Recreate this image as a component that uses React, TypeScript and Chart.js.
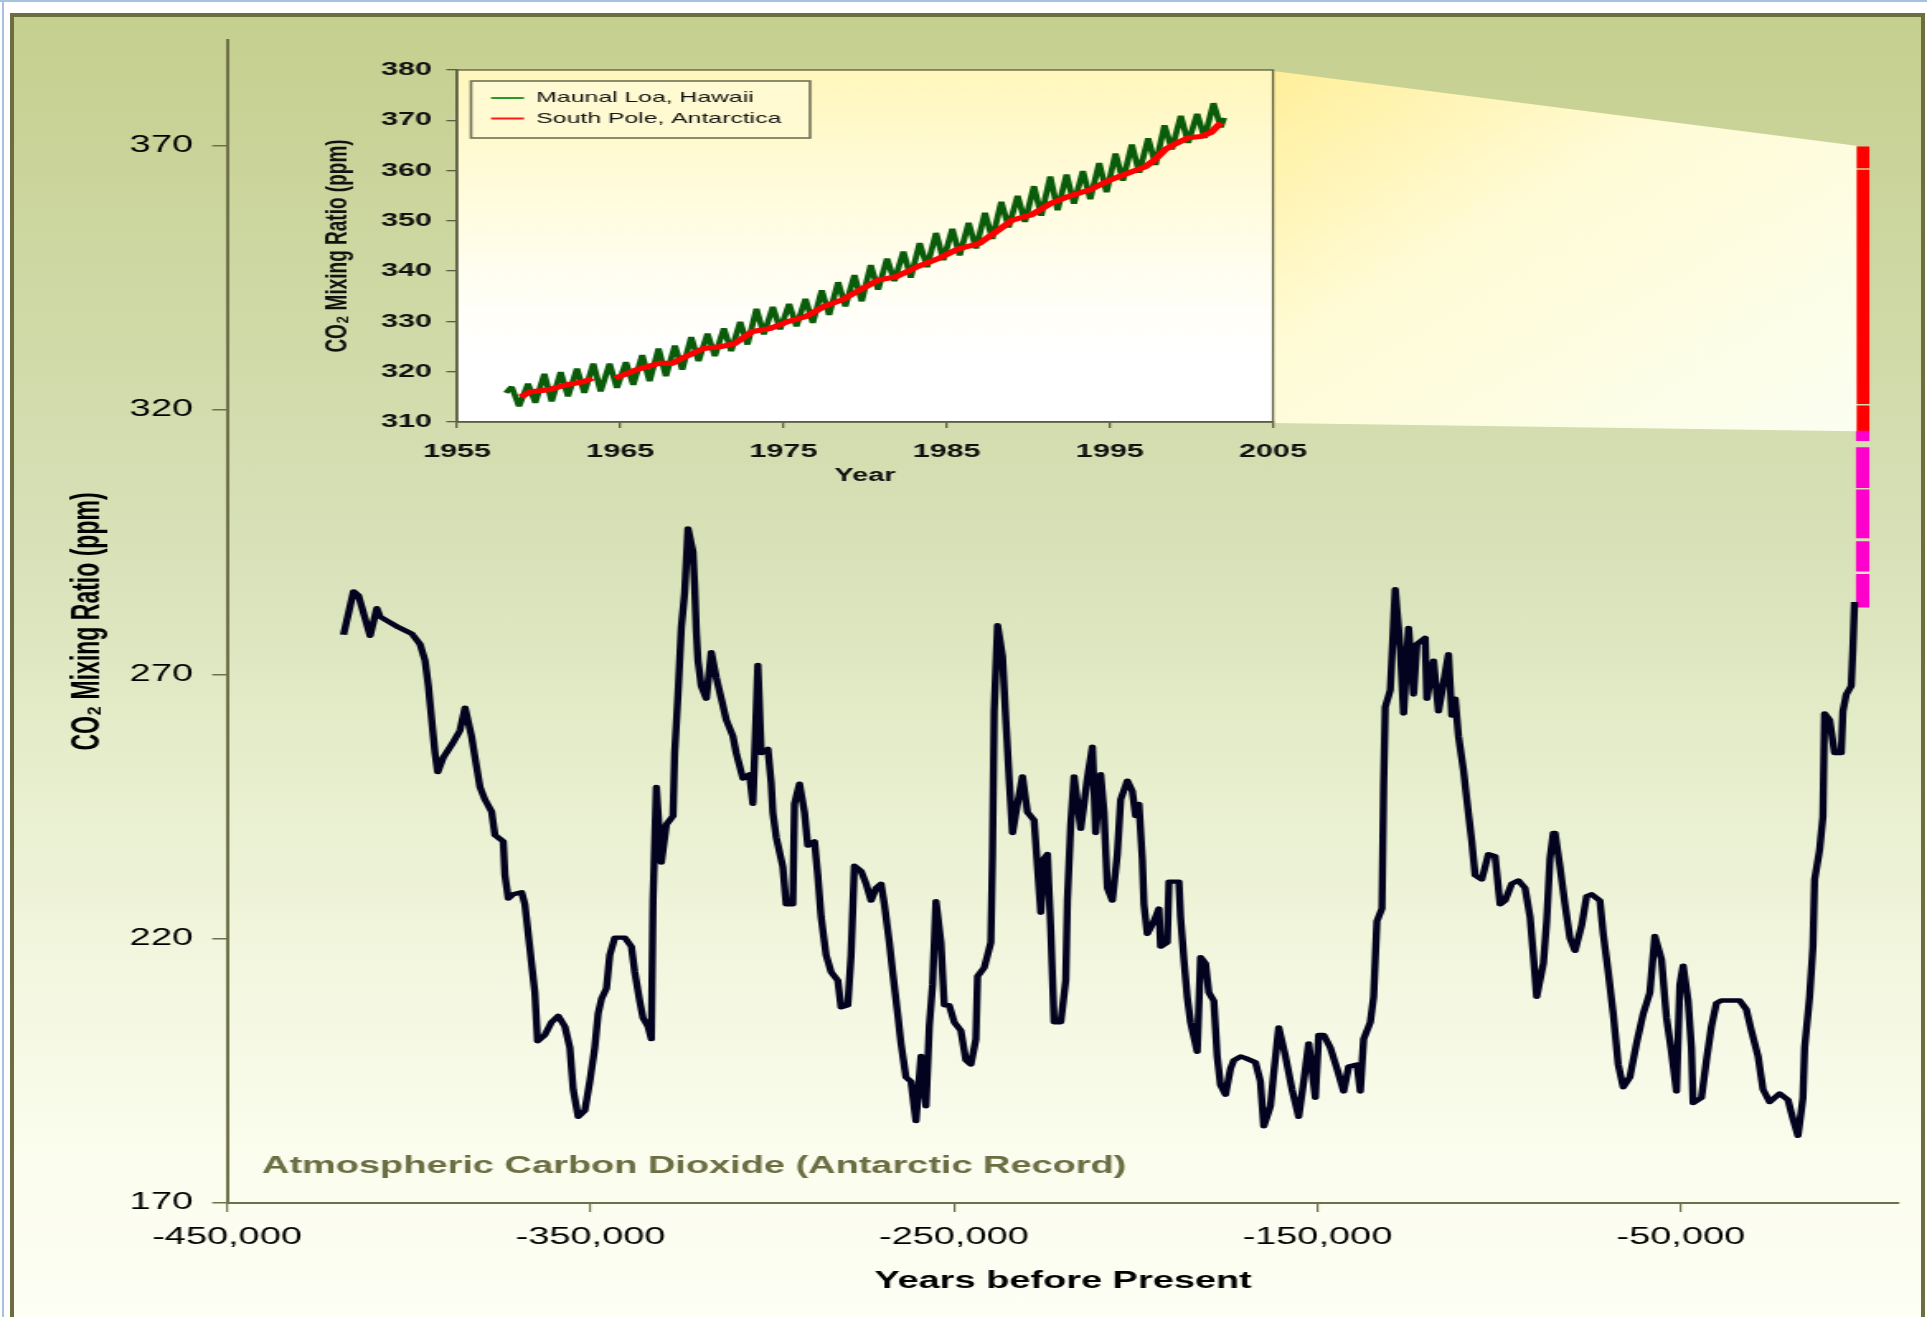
import { useEffect, useRef } from 'react';
import { Chart, registerables } from 'chart.js';

Chart.register(...registerables);

// ---------------- Main chart data: Antarctic ice-core CO2 (years before present / ppm) ----------------
const coYears = [
  -417950, -415200, -413830, -410630, -408790, -407880, -402840, -399180, -396890, -395520, -394600, -393690,
  -392770, -392040, -390480, -388190, -385900, -384530, -382700, -381780, -380410, -379030, -377200, -376290,
  -374000, -373540, -372620, -371250, -368960, -368050, -367130, -366210, -365300, -364570, -362550, -360720,
  -358890, -357060, -355680, -354770, -353390, -351560, -350190, -348820, -347900, -346980, -345610, -344700,
  -343320, -340570, -338740, -337830,
  -336460, -335540, -334170, -333250, -332800, -331880, -330510, -329130, -327300, -326840, -325930, -325010,
  -324100, -323180, -321810, -321350, -320890, -320430, -319520, -318140, -316770, -315400, -314020, -312650,
  -310820, -309900, -308070, -306240, -305320, -303950, -303030, -301200, -300290, -299830, -298910, -297080,
  -296170, -294340, -293880, -292500, -291130, -290220, -288380, -287470, -286550, -285180, -283810, -281970,
  -281060, -279230, -278310, -277400, -275560, -274190, -272820, -271440, -270070, -269150, -267780, -266870,
  -265490, -264580, -263200, -261830, -260460, -259080, -257710, -256790, -255880, -254960, -253590, -252670,
  -251300, -249930, -248100, -246720, -245350, -243970, -243520, -241690, -240770, -239850, -239400, -238940,
  -238020, -236650, -235730, -234820, -233900, -232530, -231160, -229780, -227950, -227030, -226120, -225200,
  -224290, -223370, -222460, -220620, -219250, -218790, -217880, -216960, -215130, -213300, -211920, -211010,
  -209640, -208720, -207800, -206430, -205060, -204140, -202310, -200940, -200020, -199110, -198190, -197730,
  -196820, -194980, -193610, -193150, -191320, -190860, -188120, -187660, -186740, -185830, -184910, -183080,
  -182160, -180790, -179880, -178500, -177590, -176670, -175300, -173920, -173010, -171180,
  -169810, -167060, -165690, -164770, -162940, -162020, -160650, -158820, -156990, -155160, -153780, -152410,
  -150580, -149660, -148290, -146460, -144620, -142790, -141420, -139130, -138210, -137300, -135470, -134550,
  -133640, -132260, -131800, -131350, -129970, -128600, -127230, -126310, -124940, -123560, -122650, -120360,
  -119900, -118070, -116700, -113950, -113030, -112120, -111200, -109830, -108910, -107540, -106620, -104790,
  -102960, -101130, -99750, -98380, -96550, -94720, -92890, -91510, -90600, -89680, -87850, -86930,
  -86020, -85100,
  -84650, -83280, -81900, -80530, -79150, -77320, -75950, -74580, -72290, -71370, -70000, -68620,
  -67250, -65880, -64050, -62210, -60380, -58550, -57180, -55350, -53970, -52600, -51230, -50310,
  -49390, -48020, -47110, -46650, -44360, -42980, -41610, -40240, -38860, -33830, -32000, -30620,
  -28790, -27420, -25590, -22840, -20550, -19180, -17800, -16430, -15970, -14600, -13680, -13220,
  -11850, -10930, -10480, -9100, -7730, -5900, -5440, -4520, -3150, -2690, -2240,
];
const coPpm = [
  277.5, 285.7, 284.9, 277.3, 282.5, 280.9, 278.9, 277.7, 275.7, 272.6, 267.8, 261.4,
  255.1, 251.5, 254.3, 256.7, 259.4, 263.7, 258.2, 254.3, 248.7, 246.3, 244.0, 239.6,
  238.4, 232.0, 227.6, 228.4, 228.8, 226.5, 220.9, 215.3, 209.8, 200.6, 201.8, 204.2,
  205.4, 203.4, 199.4, 191.5, 186.3, 187.5, 193.0, 199.4, 205.8, 208.6, 210.6, 216.9,
  220.2, 220.2, 218.5, 213.7,
  208.2, 205.0, 203.4, 201.0, 227.2, 248.7, 234.4, 241.6, 243.2, 255.1, 266.2, 278.9,
  285.3, 297.6, 293.2, 286.9, 278.1, 272.6, 267.8, 265.4, 274.2, 269.4, 265.4, 261.4,
  258.3, 255.1, 250.3, 251.1, 245.5, 271.8, 255.1, 255.9, 249.5, 243.9, 239.2, 233.6,
  226.5, 226.5, 245.5, 249.3, 243.9, 237.6, 238.4, 232.0, 224.1, 216.9, 213.7, 212.1,
  207.0, 207.4, 216.9, 233.8, 232.8, 230.4, 227.2, 229.6, 230.4, 226.5, 219.3, 213.7,
  205.8, 200.2, 193.8, 193.0, 185.5, 197.8, 188.3, 203.4, 211.3, 227.1, 219.3, 207.4,
  207.4, 204.2, 202.6, 197.0, 196.2, 201.0, 212.9, 214.5, 216.9, 219.3, 236.0, 263.0,
  279.3, 273.4, 261.4, 250.3, 240.0, 245.5, 250.7, 243.9, 242.4, 233.6, 224.9, 235.2,
  236.0, 221.7, 204.2, 204.2, 212.1, 227.2, 241.6, 250.7, 240.8, 250.3, 256.3, 240.0,
  251.1, 243.9, 229.6, 227.2, 236.0, 246.3, 249.9, 247.9, 243.2, 245.5, 235.2, 226.5,
  220.9, 223.3, 225.7, 218.5, 219.3, 230.8, 230.8, 224.1, 216.1, 209.0, 204.2, 198.6,
  216.5, 215.3, 209.8, 208.2, 197.8, 192.3, 190.5, 195.4, 197.0, 197.7,
  197.4, 196.6, 193.0, 184.5, 188.3, 194.6, 203.2, 197.8, 191.5, 186.3, 193.0, 200.2,
  189.9, 201.8, 201.8, 199.4, 195.4, 191.1, 195.8, 196.2, 191.1, 201.0, 204.2, 209.0,
  223.3, 225.7, 248.7, 263.8, 267.0, 286.1, 274.9, 262.6, 278.8, 266.2, 275.7, 276.9,
  265.4, 272.6, 263.0, 273.8, 262.2, 265.4, 258.3, 251.9, 246.3, 238.4, 232.0, 231.2,
  236.0, 235.6, 226.5, 227.2, 230.4, 231.0, 229.6, 224.1, 216.9, 209.0, 215.3, 223.3,
  235.2, 240.0,
  240.0, 233.6, 226.5, 220.1, 217.7, 222.5, 228.0, 228.4, 227.2, 220.9, 213.7, 205.8,
  196.2, 191.9, 193.8, 200.2, 205.8, 209.8, 220.5, 216.1, 205.0, 198.6, 191.1, 211.3,
  214.9, 208.2, 199.4, 188.9, 189.9, 197.0, 203.4, 207.8, 208.3, 208.3, 206.6, 202.6,
  197.8, 191.5, 189.1, 190.7, 189.5, 185.9, 182.7, 189.9, 199.4, 209.0, 218.5, 231.2,
  236.8, 243.1, 262.6, 261.4, 255.1, 255.1, 263.0, 266.2, 267.8, 274.9, 283.7,
];

// recent record drawn as stacked segments at year 0
const recentYear = 0;
const recentLow = [365.8, 321.2, 316.0, 314.2, 305.3, 295.8, 289.5, 282.7];
const recentHigh = [369.8, 365.4, 320.8, 316.0, 312.9, 304.9, 295.1, 288.9];
const recentColors = ['#ff0000', '#ff0000', '#ff0000', '#ff00cc', '#ff00cc', '#ff00cc', '#ff00cc', '#ff00cc'];

const mainXTicks = [-450000, -350000, -250000, -150000, -50000];
const mainYTicks = [170, 220, 270, 320, 370];
const mainTitle = 'Atmospheric Carbon Dioxide (Antarctic Record)';
const mainXTitle = 'Years before Present';
const yTitle = 'CO\u2082 Mixing Ratio (ppm)';

// ---------------- Inset data ----------------
const mlYears = [
  1958, 1959, 1960, 1961, 1962, 1963, 1964, 1965, 1966, 1967, 1968, 1969, 1970, 1971, 1972,
  1973, 1974, 1975, 1976, 1977, 1978, 1979, 1980, 1981, 1982, 1983, 1984, 1985, 1986, 1987,
  1988, 1989, 1990, 1991, 1992, 1993, 1994, 1995, 1996, 1997, 1998, 1999, 2000, 2001,
];
const mlPeak = [
  317.0, 317.6, 319.6, 319.9, 320.6, 321.6, 321.6, 321.9, 323.3, 324.6, 325.2, 326.9, 327.6, 328.6, 329.9,
  332.5, 332.9, 333.5, 334.5, 336.2, 337.8, 339.2, 341.2, 342.5, 343.9, 345.6, 347.6, 348.4, 349.6, 351.6,
  353.8, 355.0, 356.9, 358.8, 359.2, 359.9, 361.5, 363.4, 365.2, 366.4, 369.0, 370.9, 371.3, 373.4,
];
const mlTrough = [
  313.1, 313.8, 314.1, 315.1, 315.8, 316.1, 316.8, 317.4, 318.1, 319.1, 320.4, 322.1, 323.1, 324.1, 325.4,
  327.4, 328.4, 329.0, 329.7, 331.3, 333.0, 334.0, 336.3, 338.0, 338.7, 340.8, 342.2, 343.1, 344.5, 346.4,
  348.7, 349.8, 351.0, 352.1, 353.4, 354.3, 355.7, 358.0, 359.6, 361.1, 364.2, 365.5, 366.5, 368.6,
];
const mlStart = { x: 1958.0, y: 315.8 };
const mlEnd = { x: 2002.0, y: 370.5 };
const spYears = [
  1958.9, 1959.5, 1960.6, 1961.7, 1962.75, 1963.3, 1964.0, 1964.7, 1966.0, 1967.4, 1968.2, 1969.0,
  1970.1, 1971.2, 1972.0, 1973.1, 1974.2, 1975.3, 1976.4, 1977.5, 1978.6, 1979.7, 1980.8, 1981.9,
  1983.3, 1984.5, 1985.7, 1987.0, 1988.2, 1989.0, 1990.2, 1991.4, 1992.6, 1993.8, 1995.0, 1996.2,
  1997.2, 1997.8, 1998.4, 1999.0, 1999.8, 2000.6, 2001.2, 2001.8,
];
const spPpm = [
  315.0, 316.0, 316.4, 317.4, 318.0, 318.7, null, 318.7, 320.4, 321.7, 321.7, 323.0,
  324.6, 325.0, 325.6, 328.0, 328.6, 330.0, 331.0, 333.0, 334.3, 336.3, 338.2, 338.9,
  341.0, 342.5, 344.4, 345.5, 348.2, 350.1, 351.2, 353.5, 355.0, 356.2, 358.1, 359.6,
  360.8, 362.3, 364.2, 365.3, 366.5, 366.8, 367.6, 369.5,
];
const insetXTicks = [1955, 1965, 1975, 1985, 1995, 2005];
const insetYTicks = [310, 320, 330, 340, 350, 360, 370, 380];
const seriesNames = ['Maunal Loa, Hawaii', 'South Pole, Antarctica'];
const legendColors = ['#2a9a2a', '#ff1a1a'];

// ---------------- geometry (page is a horizontally stretched picture) ----------------
const PAGE_W = 1927;
const PAGE_H = 1317;
const CW = 1168;
const SX = PAGE_W / CW;
const lx = (v: number) => v / SX;

const FONT = "'Liberation Sans', Arial, 'DejaVu Sans', sans-serif";
const AXIS = '#6e7049';
const IAXIS = '#5c5c40';

const M_LEFT = lx(227), M_RIGHT = lx(1899), M_TOP = 40, M_BOTTOM = 1203;
const M_YAXIS_W = 100, M_XAXIS_H = 92;
const I_LEFT = lx(457), I_RIGHT = lx(1273), I_TOP = 70, I_BOTTOM = 422;
const I_YAXIS_W = 90, I_XAXIS_H = 65;
const BAR_W = lx(12.3);

const setTicks = (vals: number[]) => (axis: any) => {
  axis.ticks = vals.map((v) => ({ value: v }));
};

const mainTitlePlugin = {
  id: 'mainTitle',
  afterDatasetsDraw(chart: any) {
    const ctx = chart.ctx;
    const ca = chart.chartArea;
    ctx.save();
    ctx.font = `bold 23px ${FONT}`;
    ctx.fillStyle = '#6b6d42';
    ctx.textAlign = 'left';
    ctx.textBaseline = 'alphabetic';
    ctx.fillText(mainTitle, ca.left + lx(35), ca.bottom - 30);
    ctx.restore();
  },
};

function buildMainConfig(): any {
  const coData = coYears.map((x, i) => ({ x, y: coPpm[i] }));
  const recentData = recentLow.map((lo, i) => ({ x: recentYear, y: [lo, recentHigh[i]] }));
  return {
    type: 'line',
    data: {
      datasets: [
        {
          type: 'line',
          label: 'Antarctic ice core',
          data: coData,
          borderColor: '#03031f',
          borderWidth: 4.4,
          pointRadius: 0,
          tension: 0,
          fill: false,
          borderJoinStyle: 'round',
        },
        {
          type: 'bar',
          label: 'Recent',
          data: recentData,
          backgroundColor: recentColors,
          borderWidth: 0,
          barThickness: BAR_W,
          grouped: false,
        },
      ],
    },
    options: {
      responsive: false,
      animation: false,
      devicePixelRatio: 1,
      events: [],
      layout: {
        padding: {
          left: M_LEFT - M_YAXIS_W,
          right: CW - M_RIGHT,
          top: M_TOP,
          bottom: PAGE_H - M_BOTTOM - M_XAXIS_H,
        },
      },
      plugins: { legend: { display: false }, tooltip: { enabled: false }, title: { display: false } },
      scales: {
        x: {
          type: 'linear',
          min: -450000,
          max: 10000,
          offset: false,
          afterBuildTicks: setTicks(mainXTicks),
          afterFit: (s: any) => { s.height = M_XAXIS_H; },
          grid: { display: true, drawOnChartArea: false, drawTicks: true, tickLength: 9, color: AXIS, lineWidth: 1.2, offset: false },
          border: { display: true, color: AXIS, width: 2 },
          ticks: {
            autoSkip: false, maxRotation: 0, minRotation: 0, padding: 12.2, color: '#000',
            font: { family: FONT, size: 23 },
            callback: (v: any) => Number(v).toLocaleString('en-US'),
          },
          title: { display: true, text: mainXTitle, color: '#000', font: { family: FONT, size: 23, weight: 'bold' }, padding: { top: 0, bottom: 0 } },
        },
        y: {
          type: 'linear',
          min: 170,
          max: 390,
          beginAtZero: false,
          afterBuildTicks: setTicks(mainYTicks),
          afterFit: (s: any) => { s.width = M_YAXIS_W; },
          grid: { display: true, drawOnChartArea: false, drawTicks: true, tickLength: 9, color: AXIS, lineWidth: 1.5 },
          border: { display: true, color: AXIS, width: 2 },
          ticks: { autoSkip: false, padding: 11.6, color: '#000', font: { family: FONT, size: 23 } },
          title: { display: true, text: yTitle, color: '#000', font: { family: FONT, size: 23, weight: 'bold' }, padding: { top: 2.6, bottom: 0 } },
        },
      },
    },
    plugins: [mainTitlePlugin],
  };
}

const LEG_PAD = 5.5;
const LEG_FONT = 15;
const LEG_DX = lx(491 - 457) - LEG_PAD;
const LEG_DY = 28 - LEG_PAD - LEG_FONT / 2;
const LB_X = lx(471 - 457), LB_Y = 11, LB_W = lx(810 - 471), LB_H = 57;

function insetDecor(main: any) {
  return {
    id: 'insetDecor',
    afterLayout(chart: any) {
      const lg = chart.legend;
      const ca = chart.chartArea;
      if (lg) {
        lg.left = ca.left + LEG_DX;
        lg.top = ca.top + LEG_DY;
        lg.right = lg.left + 260;
        lg.bottom = lg.top + 150;
      }
    },
    beforeDraw(chart: any) {
      const ctx = chart.ctx;
      const ca = chart.chartArea;
      ctx.save();
      // connector wedge from the inset to the recent record at year 0
      const mx = main.scales.x;
      const my = main.scales.y;
      const xr = mx.getPixelForValue(recentYear) - BAR_W / 2;
      const yt = my.getPixelForValue(recentHigh[0]);
      const yb = my.getPixelForValue(recentLow[2]);
      const gw = ctx.createLinearGradient(ca.right, ca.top, xr, yb);
      gw.addColorStop(0, '#ffef9a');
      gw.addColorStop(0.4, '#fffbd6');
      gw.addColorStop(1, '#fbfff1');
      ctx.fillStyle = gw;
      ctx.beginPath();
      ctx.moveTo(ca.right, ca.top + 1);
      ctx.lineTo(xr, yt - 1);
      ctx.lineTo(xr, yb);
      ctx.lineTo(ca.right, ca.bottom + 1);
      ctx.closePath();
      ctx.fill();
      // plot background: pale yellow at the top fading to white
      const g = ctx.createLinearGradient(0, ca.top, 0, ca.bottom);
      g.addColorStop(0, '#fff7bc');
      g.addColorStop(0.3, '#fffbd8');
      g.addColorStop(0.6, '#fffef2');
      g.addColorStop(0.8, '#ffffff');
      g.addColorStop(1, '#ffffff');
      ctx.fillStyle = g;
      ctx.fillRect(ca.left, ca.top, ca.right - ca.left, ca.bottom - ca.top);
      // legend box fill
      ctx.fillStyle = '#fffad2';
      ctx.fillRect(ca.left + LB_X, ca.top + LB_Y, LB_W, LB_H);
      ctx.restore();
    },
    afterDraw(chart: any) {
      const ctx = chart.ctx;
      const ca = chart.chartArea;
      ctx.save();
      ctx.strokeStyle = IAXIS;
      ctx.lineWidth = 1.3;
      ctx.strokeRect(ca.left, ca.top, ca.right - ca.left, ca.bottom - ca.top);
      ctx.strokeStyle = '#707055';
      ctx.lineWidth = 1.6;
      ctx.strokeRect(ca.left + LB_X, ca.top + LB_Y, LB_W, LB_H);
      ctx.restore();
    },
  };
}

function buildInsetConfig(main: any): any {
  const mlData: any[] = [mlStart];
  mlYears.forEach((yr, i) => {
    mlData.push({ x: yr + 0.35, y: mlPeak[i] });
    mlData.push({ x: yr + 0.8, y: mlTrough[i] });
  });
  mlData.push(mlEnd);
  const spData = spYears.map((x, i) => ({ x, y: spPpm[i] }));
  return {
    type: 'line',
    data: {
      datasets: [
        { label: seriesNames[0], data: mlData, borderColor: '#0a5c0a', borderWidth: 3.8, pointRadius: 0, tension: 0, order: 2, borderJoinStyle: 'bevel' },
        { label: seriesNames[1], data: spData, borderColor: '#ff0000', borderWidth: 5, pointRadius: 0, tension: 0, order: 1, spanGaps: false },
      ],
    },
    options: {
      responsive: false,
      animation: false,
      devicePixelRatio: 1,
      events: [],
      layout: {
        padding: {
          left: I_LEFT - I_YAXIS_W,
          right: CW - I_RIGHT,
          top: I_TOP,
          bottom: PAGE_H - I_BOTTOM - I_XAXIS_H,
        },
      },
      plugins: {
        tooltip: { enabled: false },
        legend: {
          display: true,
          position: 'chartArea',
          align: 'start',
          labels: {
            boxWidth: 20,
            boxHeight: 2,
            padding: LEG_PAD,
            color: '#111',
            font: { family: FONT, size: LEG_FONT },
            generateLabels: () => seriesNames.map((t, i) => ({
              text: t, fillStyle: legendColors[i], strokeStyle: legendColors[i], lineWidth: 0,
              hidden: false, datasetIndex: i, fontColor: '#111',
            })),
          },
        },
      },
      scales: {
        x: {
          type: 'linear',
          min: 1955,
          max: 2005,
          offset: false,
          afterBuildTicks: setTicks(insetXTicks),
          afterFit: (s: any) => { s.height = I_XAXIS_H; },
          grid: { display: true, drawOnChartArea: false, drawTicks: true, tickLength: 6, color: IAXIS, lineWidth: 1.3 },
          border: { display: true, color: IAXIS, width: 1.5 },
          ticks: {
            autoSkip: false, maxRotation: 0, minRotation: 0, padding: 12.6, color: '#111',
            font: { family: FONT, size: 18.5, weight: 'bold' },
            callback: (v: any) => String(v),
          },
          title: { display: true, text: 'Year', color: '#111', font: { family: FONT, size: 17.5, weight: 'bold' }, padding: { top: 0, bottom: 0 } },
        },
        y: {
          type: 'linear',
          min: 310,
          max: 380,
          beginAtZero: false,
          afterBuildTicks: setTicks(insetYTicks),
          afterFit: (s: any) => { s.width = I_YAXIS_W; },
          grid: { display: true, drawOnChartArea: false, drawTicks: true, tickLength: 6.5, color: IAXIS, lineWidth: 1.3 },
          border: { display: true, color: IAXIS, width: 1.5 },
          ticks: { autoSkip: false, padding: 8.7, color: '#111', font: { family: FONT, size: 18.5, weight: 'bold' } },
          title: { display: true, text: yTitle, color: '#111', font: { family: FONT, size: 19, weight: 'bold' }, padding: { top: 6, bottom: 0 } },
        },
      },
    },
    plugins: [insetDecor(main)],
  };
}

export default function App() {
  const mainRef = useRef<HTMLCanvasElement | null>(null);
  const insetRef = useRef<HTMLCanvasElement | null>(null);

  useEffect(() => {
    if (!mainRef.current || !insetRef.current) return;
    const main = new Chart(mainRef.current, buildMainConfig());
    const inset = new Chart(insetRef.current, buildInsetConfig(main));
    return () => {
      inset.destroy();
      main.destroy();
    };
  }, []);

  const canvasStyle: any = {
    position: 'absolute', left: 0, top: 0, width: PAGE_W + 'px', height: PAGE_H + 'px',
  };

  return (
    <div style={{ position: 'fixed', left: 0, top: 0, width: PAGE_W, height: PAGE_H, background: '#ffffff', overflow: 'hidden' }}>
      <div style={{ position: 'absolute', left: 2, top: 0, width: 2, height: PAGE_H, background: '#a7c2de' }} />
      <div style={{ position: 'absolute', left: 0, top: 0, width: PAGE_W, height: 2, background: '#a7c2de' }} />
      <div
        style={{
          position: 'absolute', left: 10, top: 13, width: 1915, height: 1345, boxSizing: 'border-box',
          border: '4px solid #6c6e42',
          background: 'linear-gradient(to bottom, #c5cf8e 0%, #cfd9a6 22%, #d8e1b8 40%, #e6edcb 55%, #f3f7e0 72%, #fbfdee 86%, #fefff6 100%)',
        }}
      />
      <canvas ref={mainRef} width={CW} height={PAGE_H} style={canvasStyle} />
      <canvas ref={insetRef} width={CW} height={PAGE_H} style={canvasStyle} />
    </div>
  );
}
